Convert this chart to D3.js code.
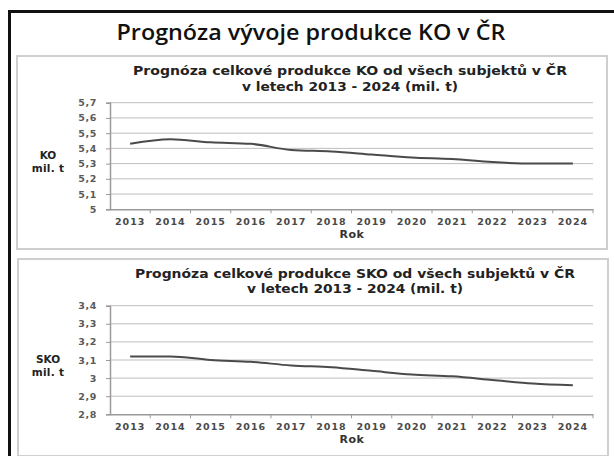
<!DOCTYPE html>
<html>
<head>
<meta charset="utf-8">
<script src="https://cdn.jsdelivr.net/npm/d3@7"></script>
<style>
  html, body { margin: 0; padding: 0; background: #fff; }
  svg { display: block; font-family: 'DejaVu Sans', sans-serif; }
</style>
</head>
<body>
<div id="root"></div>
<script>
const years = ['2013', '2014', '2015', '2016', '2017', '2018', '2019', '2020', '2021', '2022', '2023', '2024']
const koValues = [5.43, 5.46, 5.44, 5.43, 5.39, 5.38, 5.36, 5.34, 5.33, 5.31, 5.30, 5.30]
const skoValues = [3.12, 3.12, 3.10, 3.09, 3.07, 3.06, 3.04, 3.02, 3.01, 2.99, 2.97, 2.96]
const koTicks = [5, 5.1, 5.2, 5.3, 5.4, 5.5, 5.6, 5.7]
const skoTicks = [2.8, 2.9, 3, 3.1, 3.2, 3.3, 3.4]

const pageTitle = 'Prognóza vývoje produkce KO v ČR'
const koTitle = ['Prognóza celkové produkce KO od všech subjektů v ČR', 'v letech 2013 - 2024 (mil. t)']
const skoTitle = ['Prognóza celkové produkce SKO od všech subjektů v ČR', 'v letech 2013 - 2024 (mil. t)']

const svg = d3.select('#root').append('svg')
  .attr('width', 614)
  .attr('height', 456)

// slide frame
svg.append('rect')
  .attr('x', 9.5).attr('y', 11.5)
  .attr('width', 640).attr('height', 480)
  .attr('fill', 'none')
  .attr('stroke', '#111')
  .attr('stroke-width', 3)

svg.append('text')
  .attr('x', 311).attr('y', 40)
  .attr('text-anchor', 'middle')
  .attr('font-family', "'Open Sans', sans-serif")
  .attr('font-size', 21)
  .attr('font-weight', 600)
  .attr('textLength', 389)
  .attr('lengthAdjust', 'spacingAndGlyphs')
  .attr('fill', '#111')
  .text(pageTitle)

const fmt = v => String(v).replace('.', ',')

function panel(opts) {
  const { box, top, bottom, ticks, values, title, titleY, titleW, yLabel } = opts
  const left = 110, right = 593

  const g = svg.append('g')

  g.append('rect')
    .attr('x', box[0]).attr('y', box[1])
    .attr('width', box[2]).attr('height', box[3])
    .attr('fill', '#fff')
    .attr('stroke', '#cfcfcf')
    .attr('stroke-width', 2)

  const x = d3.scaleBand().domain(years).range([left, right])
  const y = d3.scaleLinear()
    .domain([ticks[0], ticks[ticks.length - 1]])
    .range([bottom, top])

  // grid
  g.selectAll('.grid')
    .data(ticks.slice(1))
    .enter().append('line')
    .attr('x1', left).attr('x2', right)
    .attr('y1', d => y(d)).attr('y2', d => y(d))
    .attr('stroke', '#bdbdbd')
    .attr('stroke-width', 1)

  const yAxis = g.append('g')
    .attr('transform', `translate(${left},0)`)
    .call(d3.axisLeft(y).tickValues(ticks).tickFormat(fmt).tickSize(4).tickPadding(9))
    .attr('font-family', 'DejaVu Sans, sans-serif')
  yAxis.select('.domain').attr('stroke', '#9a9a9a').attr('stroke-width', 1.5)
  yAxis.selectAll('.tick line').attr('stroke', '#9a9a9a')
  yAxis.selectAll('.tick text')
    .attr('font-size', 9.5)
    .attr('font-weight', 700)
    .attr('letter-spacing', 0.6)
    .attr('fill', '#5a5a5a')

  const xAxis = g.append('g')
    .attr('transform', `translate(0,${bottom})`)
    .call(d3.axisBottom(x).tickSize(0).tickPadding(9))
    .attr('font-family', 'DejaVu Sans, sans-serif')
  xAxis.select('.domain').attr('stroke', '#9a9a9a').attr('stroke-width', 1.5)
  xAxis.selectAll('.tick text')
    .attr('font-size', 9.5)
    .attr('font-weight', 700)
    .attr('letter-spacing', 1)
    .attr('fill', '#4a4a4a')

  // ticks between categories
  g.selectAll('.xt')
    .data(years.slice(1).concat(['end']))
    .enter().append('line')
    .attr('x1', d => d === 'end' ? right : x(d))
    .attr('x2', d => d === 'end' ? right : x(d))
    .attr('y1', bottom).attr('y2', bottom + 4)
    .attr('stroke', '#9a9a9a')

  g.append('text')
    .attr('x', 352).attr('y', bottom + 29)
    .attr('text-anchor', 'middle')
    .attr('font-size', 11)
    .attr('font-weight', 700)
    .attr('letter-spacing', 0.5)
    .attr('fill', '#333')
    .text('Rok')

  const midY = (top + bottom) / 2
  g.append('text')
    .attr('x', 48).attr('y', midY + 3)
    .attr('text-anchor', 'middle')
    .attr('font-size', 10.5)
    .attr('font-weight', 700)
    .attr('fill', '#222')
    .text(yLabel)
  g.append('text')
    .attr('x', 48).attr('y', midY + 16)
    .attr('text-anchor', 'middle')
    .attr('font-size', 10.5)
    .attr('font-weight', 700)
    .attr('letter-spacing', 0.3)
    .attr('fill', '#222')
    .text('mil. t')

  title.forEach((t, i) => {
    g.append('text')
      .attr('x', opts.titleX).attr('y', titleY[i])
      .attr('text-anchor', 'middle')
      .attr('font-size', 12)
      .attr('font-weight', 700)
      .attr('fill', '#222')
      .attr('textLength', titleW[i])
      .attr('lengthAdjust', 'spacingAndGlyphs')
      .text(t)
  })

  const line = d3.line()
    .x((d, i) => x(years[i]) + x.bandwidth() / 2)
    .y(d => y(d))
    .curve(d3.curveMonotoneX)

  g.append('path')
    .datum(values)
    .attr('d', line)
    .attr('fill', 'none')
    .attr('stroke', '#4a4a4a')
    .attr('stroke-width', 2)
}

panel({
  box: [17, 56, 590, 193],
  top: 102.7, bottom: 209.3,
  ticks: koTicks, values: koValues,
  title: koTitle, titleX: 350, titleY: [75, 90.5], titleW: [434, 216],
  yLabel: 'KO'
})

panel({
  box: [18, 259, 590, 197],
  top: 305.7, bottom: 414.3,
  ticks: skoTicks, values: skoValues,
  title: skoTitle, titleX: 355, titleY: [278, 292.5], titleW: [440, 216],
  yLabel: 'SKO'
})
</script>
</body>
</html>
